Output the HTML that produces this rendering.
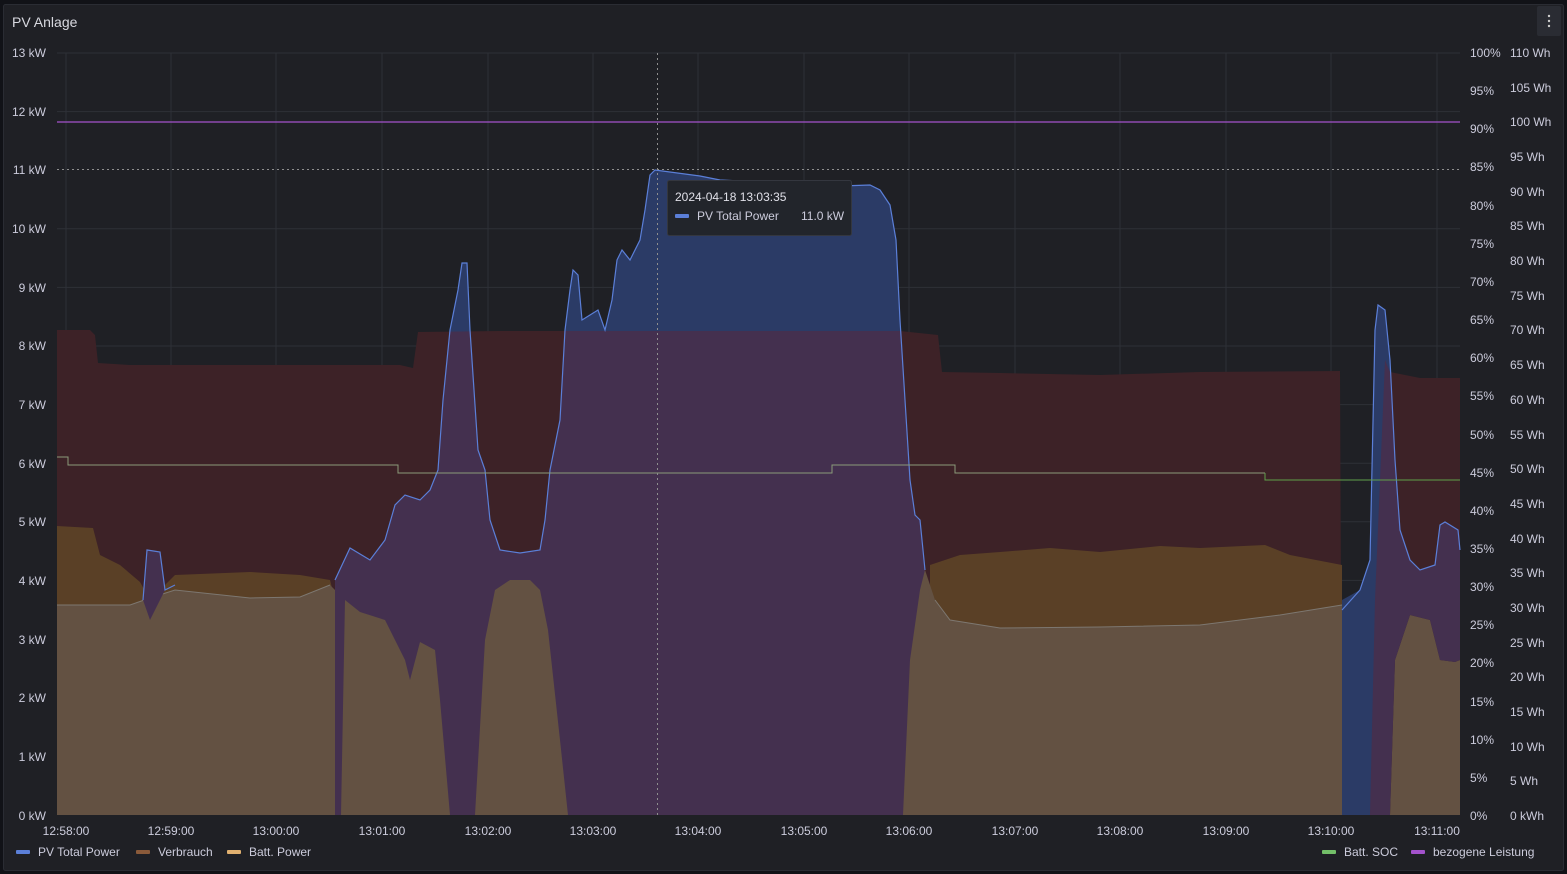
<!DOCTYPE html>
<html><head><meta charset="utf-8"><style>
body{margin:0;background:#111217;width:1567px;height:874px;overflow:hidden;font-family:"Liberation Sans",sans-serif}
svg{display:block}
text{font-family:"Liberation Sans",sans-serif;font-size:12px;fill:#ccccdc}
</style></head><body>
<svg width="1567" height="874" viewBox="0 0 1567 874">
<rect x="0" y="0" width="1567" height="874" fill="#111217"/>
<rect x="3.5" y="4.5" width="1560" height="866" rx="2" fill="#1f2025" stroke="#2a2c33"/>
<text x="12" y="27" style="font-size:14px;fill:#d8d9e0">PV Anlage</text>
<rect x="1537" y="6" width="24" height="30" rx="2" fill="#2a2c33"/>
<circle cx="1549" cy="16" r="1.2" fill="#ccc"/><circle cx="1549" cy="21" r="1.2" fill="#ccc"/><circle cx="1549" cy="26" r="1.2" fill="#ccc"/>
<defs>
<clipPath id="vb"><path id="vbp" d="M57,330 L90,330 L95,335 L98,363 L130,365 L200,365 L300,365 L400,365 L413,368 L418,332 L500,331 L600,331 L700,331 L800,331 L900,331 L938,335 L942,372 L1000,373 L1100,375 L1200,372 L1340,371 L1342,815 L57,815Z M1390,815 L1390,372 L1420,378 L1460,378 L1460,815Z"/></clipPath>
</defs>
<g stroke="#2e3037" stroke-width="1">
<line x1="57" y1="53" x2="1460" y2="53"/><line x1="57" y1="111.6" x2="1460" y2="111.6"/><line x1="57" y1="228.8" x2="1460" y2="228.8"/><line x1="57" y1="287.4" x2="1460" y2="287.4"/><line x1="57" y1="346" x2="1460" y2="346"/><line x1="57" y1="404.6" x2="1460" y2="404.6"/><line x1="57" y1="463.2" x2="1460" y2="463.2"/><line x1="57" y1="521.8" x2="1460" y2="521.8"/><line x1="57" y1="580.4" x2="1460" y2="580.4"/><line x1="57" y1="639" x2="1460" y2="639"/><line x1="57" y1="697.6" x2="1460" y2="697.6"/><line x1="57" y1="756.2" x2="1460" y2="756.2"/>
<line x1="66" y1="53" x2="66" y2="815"/><line x1="171" y1="53" x2="171" y2="815"/><line x1="276" y1="53" x2="276" y2="815"/><line x1="382" y1="53" x2="382" y2="815"/><line x1="488" y1="53" x2="488" y2="815"/><line x1="593" y1="53" x2="593" y2="815"/><line x1="698" y1="53" x2="698" y2="815"/><line x1="804" y1="53" x2="804" y2="815"/><line x1="909" y1="53" x2="909" y2="815"/><line x1="1015" y1="53" x2="1015" y2="815"/><line x1="1120" y1="53" x2="1120" y2="815"/><line x1="1226" y1="53" x2="1226" y2="815"/><line x1="1331" y1="53" x2="1331" y2="815"/><line x1="1437" y1="53" x2="1437" y2="815"/>
</g>
<use href="#vbp" fill="#3d2227"/>
<path fill="#5a4026" d="M57,815 L57,526 L93,528 L100,555 L120,565 L140,582 L150,600 L175,575 L250,572 L300,575 L330,580 L335,600 L340,815Z M930,815 L930,565 L960,555 L1000,552 L1050,548 L1100,552 L1160,546 L1200,548 L1265,545 L1290,555 L1342,565 L1342,815Z"/>
<path fill="#635142" d="M57,815 L57,605 L130,605 L150,598 L175,590 L250,598 L300,597 L330,585 L345,600 L360,612 L385,620 L395,640 L405,660 L410,680 L420,642 L435,650 L440,700 L450,815Z M475,815 L485,640 L495,590 L510,580 L530,580 L540,590 L548,630 L560,740 L568,815Z M903,815 L910,660 L920,590 L925,570 L935,600 L950,620 L1000,628 L1100,627 L1200,625 L1280,615 L1342,605 L1342,815Z M1390,815 L1395,660 L1410,615 L1430,620 L1440,660 L1455,662 L1460,660 L1460,815Z"/>
<path fill="none" stroke="#7d7770" stroke-width="1" d="M57,605 L130,605 L150,598 L175,590 L250,598 L300,597 L330,585 M935,600 L950,620 L1000,628 L1100,627 L1200,625 L1280,615 L1342,605"/>
<path fill="#2b3b66" d="M335,815 L335,580 L350,548 L370,560 L385,540 L395,505 L405,495 L420,500 L430,490 L438,470 L443,400 L450,330 L458,290 L462,263 L467,263 L470,330 L478,450 L485,470 L490,520 L500,550 L520,553 L540,550 L545,520 L550,470 L560,420 L565,330 L570,290 L573,270 L578,275 L582,320 L590,315 L598,310 L605,330 L612,300 L617,260 L622,250 L630,260 L640,240 L645,210 L650,175 L655,170 L700,176 L720,180 L840,186 L870,185 L880,190 L890,205 L896,240 L900,320 L905,400 L910,480 L915,515 L920,520 L925,570 L925,815Z"/>
<path fill="#44304f" clip-path="url(#vb)" d="M335,815 L335,580 L350,548 L370,560 L385,540 L395,505 L405,495 L420,500 L430,490 L438,470 L443,400 L450,330 L458,290 L462,263 L467,263 L470,330 L478,450 L485,470 L490,520 L500,550 L520,553 L540,550 L545,520 L550,470 L560,420 L565,330 L570,290 L573,270 L578,275 L582,320 L590,315 L598,310 L605,330 L612,300 L617,260 L622,250 L630,260 L640,240 L645,210 L650,175 L655,170 L700,176 L720,180 L840,186 L870,185 L880,190 L890,205 L896,240 L900,320 L905,400 L910,480 L915,515 L920,520 L925,570 L925,815Z"/>
<path fill="#635142" d="M341,815 L345,600 L360,612 L385,620 L395,640 L405,660 L410,680 L420,642 L435,650 L440,700 L450,815Z M475,815 L485,640 L495,590 L510,580 L530,580 L540,590 L548,630 L560,740 L568,815Z M903,815 L910,660 L920,590 L925,570 L930,600 L930,815Z"/>
<path fill="#2b3b66" d="M1342,815 L1342,600 L1360,590 L1370,560 L1375,330 L1378,305 L1385,310 L1390,360 L1390,815Z"/>
<path fill="#44304f" d="M1370,815 L1375,600 L1385,360 L1390,372 L1395,460 L1400,530 L1410,560 L1420,570 L1435,565 L1440,525 L1445,522 L1458,530 L1460,550 L1460,660 L1455,662 L1440,660 L1430,620 L1410,615 L1395,660 L1390,815Z"/>
<path fill="#44304f" d="M143,600 L147,550 L160,552 L165,590 L150,620Z"/>
<path fill="none" stroke="#5b7fd8" stroke-width="1.2" d="M143,600 L147,550 L160,552 L165,590 L175,585 M335,580 L350,548 L370,560 L385,540 L395,505 L405,495 L420,500 L430,490 L438,470 L443,400 L450,330 L458,290 L462,263 L467,263 L470,330 L478,450 L485,470 L490,520 L500,550 L520,553 L540,550 L545,520 L550,470 L560,420 L565,330 L570,290 L573,270 L578,275 L582,320 L590,315 L598,310 L605,330 L612,300 L617,260 L622,250 L630,260 L640,240 L645,210 L650,175 L655,170 L700,176 L720,180 L840,186 L870,185 L880,190 L890,205 L896,240 L900,320 L905,400 L910,480 L915,515 L920,520 L925,570 M1342,610 L1360,590 L1370,560 L1375,330 L1378,305 L1385,310 L1390,360 L1395,460 L1400,530 L1410,560 L1420,570 L1435,565 L1440,525 L1445,522 L1458,530 L1460,550"/>
<path fill="none" stroke="#8a9a7a" stroke-width="1" d="M57,457 L68,457 L68,465 L398,465 L398,473 L832,473 L832,465 L955,465 L955,473 L1265,473"/>
<path fill="none" stroke="#5fa04a" stroke-width="1" d="M1265,473 L1265,480 L1460,480"/>
<line x1="57" y1="122" x2="1460" y2="122" stroke="#a352cc" stroke-width="1.2"/>
<line x1="57" y1="169.5" x2="1460" y2="169.5" stroke="#8e8e8e" stroke-dasharray="2,3"/>
<line x1="657.5" y1="53" x2="657.5" y2="815" stroke="#8e8e8e" stroke-dasharray="2,3"/>
<g text-anchor="end">
<text x="46" y="57">13 kW</text><text x="46" y="116">12 kW</text><text x="46" y="174">11 kW</text><text x="46" y="233">10 kW</text><text x="46" y="292">9 kW</text><text x="46" y="350">8 kW</text><text x="46" y="409">7 kW</text><text x="46" y="468">6 kW</text><text x="46" y="526">5 kW</text><text x="46" y="585">4 kW</text><text x="46" y="644">3 kW</text><text x="46" y="702">2 kW</text><text x="46" y="761">1 kW</text><text x="46" y="820">0 kW</text>
</g>
<g>
<text x="1470" y="57">100%</text><text x="1470" y="95">95%</text><text x="1470" y="133">90%</text><text x="1470" y="171">85%</text><text x="1470" y="210">80%</text><text x="1470" y="248">75%</text><text x="1470" y="286">70%</text><text x="1470" y="324">65%</text><text x="1470" y="362">60%</text><text x="1470" y="400">55%</text><text x="1470" y="439">50%</text><text x="1470" y="477">45%</text><text x="1470" y="515">40%</text><text x="1470" y="553">35%</text><text x="1470" y="591">30%</text><text x="1470" y="629">25%</text><text x="1470" y="667">20%</text><text x="1470" y="706">15%</text><text x="1470" y="744">10%</text><text x="1470" y="782">5%</text><text x="1470" y="820">0%</text>
<text x="1510" y="57">110 Wh</text><text x="1510" y="92">105 Wh</text><text x="1510" y="126">100 Wh</text><text x="1510" y="161">95 Wh</text><text x="1510" y="196">90 Wh</text><text x="1510" y="230">85 Wh</text><text x="1510" y="265">80 Wh</text><text x="1510" y="300">75 Wh</text><text x="1510" y="334">70 Wh</text><text x="1510" y="369">65 Wh</text><text x="1510" y="404">60 Wh</text><text x="1510" y="439">55 Wh</text><text x="1510" y="473">50 Wh</text><text x="1510" y="508">45 Wh</text><text x="1510" y="543">40 Wh</text><text x="1510" y="577">35 Wh</text><text x="1510" y="612">30 Wh</text><text x="1510" y="647">25 Wh</text><text x="1510" y="681">20 Wh</text><text x="1510" y="716">15 Wh</text><text x="1510" y="751">10 Wh</text><text x="1510" y="785">5 Wh</text><text x="1510" y="820">0 kWh</text>
</g>
<g text-anchor="middle">
<text x="66" y="835">12:58:00</text><text x="171" y="835">12:59:00</text><text x="276" y="835">13:00:00</text><text x="382" y="835">13:01:00</text><text x="488" y="835">13:02:00</text><text x="593" y="835">13:03:00</text><text x="698" y="835">13:04:00</text><text x="804" y="835">13:05:00</text><text x="909" y="835">13:06:00</text><text x="1015" y="835">13:07:00</text><text x="1120" y="835">13:08:00</text><text x="1226" y="835">13:09:00</text><text x="1331" y="835">13:10:00</text><text x="1437" y="835">13:11:00</text>
</g>
<rect x="16" y="850" width="14" height="4" rx="1" fill="#5b7fd8"/><text x="38" y="856">PV Total Power</text>
<rect x="136" y="850" width="14" height="4" rx="1" fill="#8a5a3a"/><text x="158" y="856">Verbrauch</text>
<rect x="227" y="850" width="14" height="4" rx="1" fill="#e0b070"/><text x="249" y="856">Batt. Power</text>
<rect x="1322" y="850" width="14" height="4" rx="1" fill="#73bf69"/><text x="1344" y="856">Batt. SOC</text>
<rect x="1411" y="850" width="14" height="4" rx="1" fill="#a352cc"/><text x="1433" y="856">bezogene Leistung</text>
<rect x="667.5" y="180.5" width="184" height="55" rx="2" fill="#22252b" stroke="#34373f"/>
<text x="675" y="201" style="fill:#e0e0e8">2024-04-18 13:03:35</text>
<rect x="675" y="214" width="14" height="4" rx="1" fill="#5b7fd8"/>
<text x="697" y="220">PV Total Power</text><text x="801" y="220">11.0 kW</text>
</svg>
</body></html>
